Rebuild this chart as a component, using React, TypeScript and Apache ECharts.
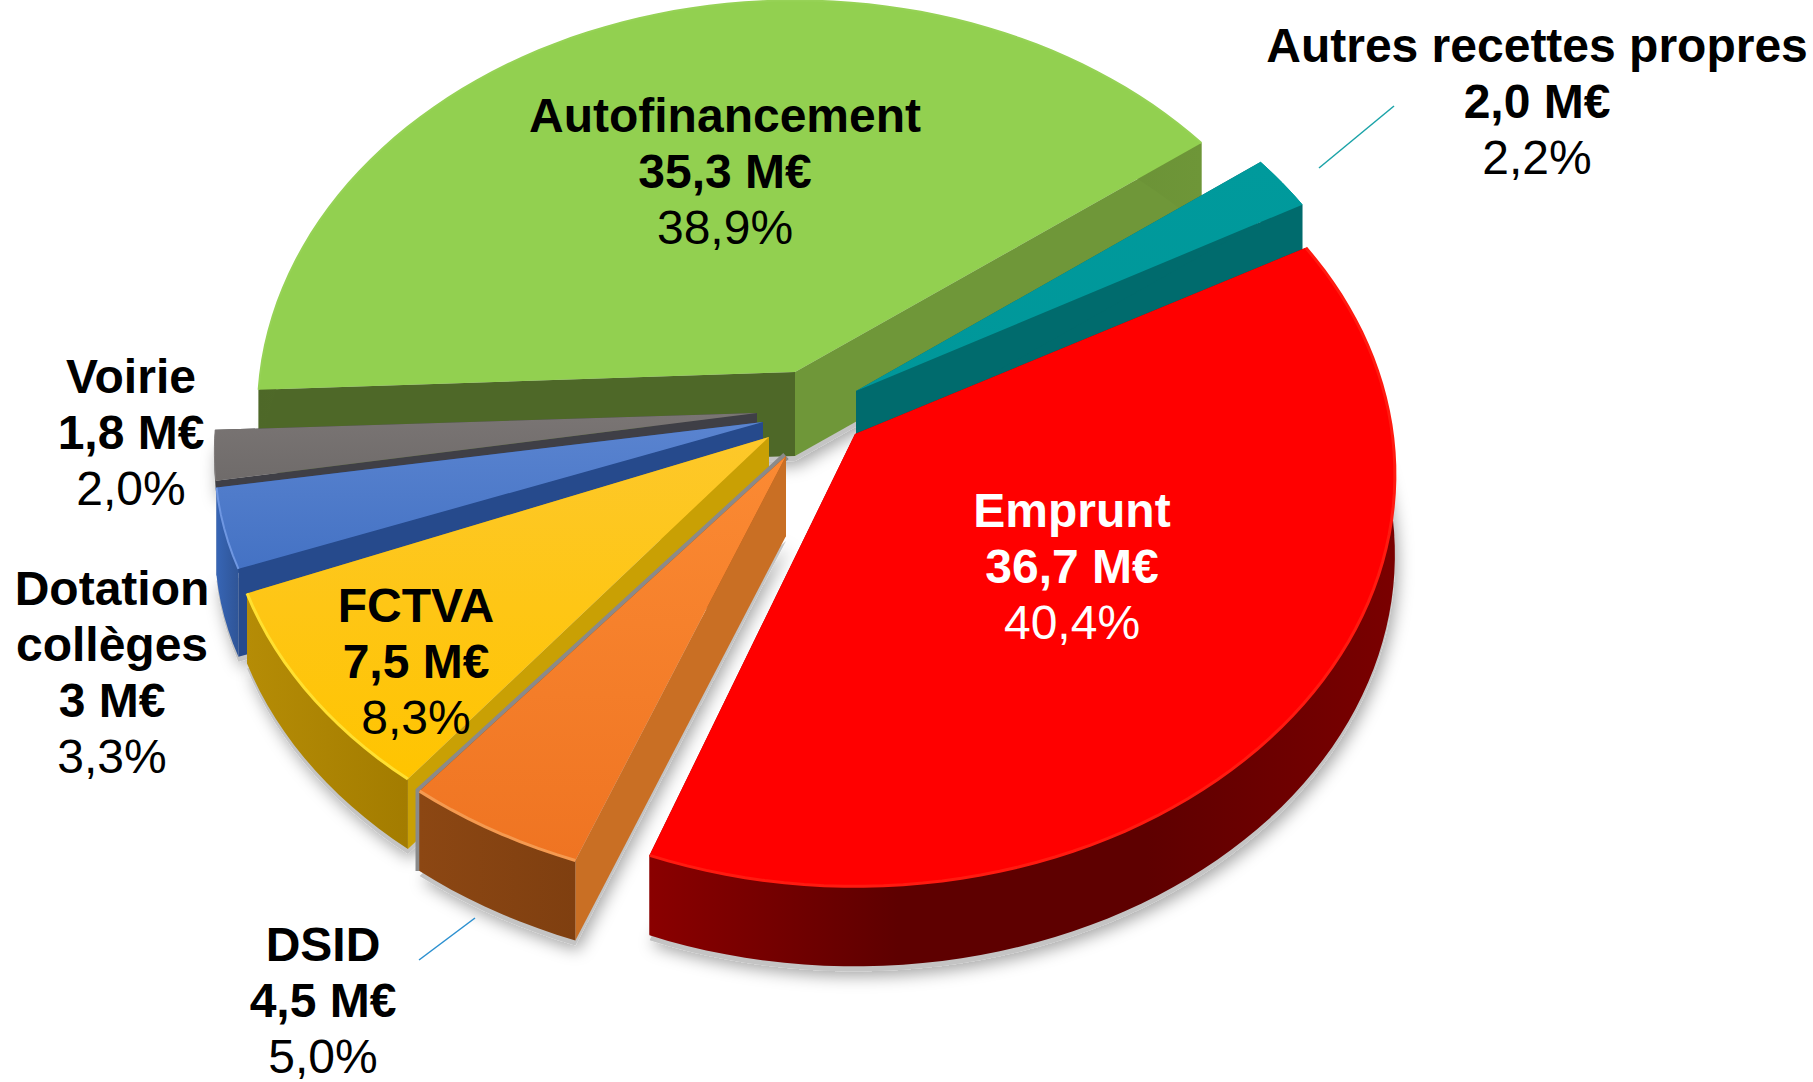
import React, { useEffect, useRef } from "react";
import * as echarts from "echarts";

const categories = ["Emprunt", "DSID", "FCTVA", "Dotation collèges", "Voirie", "Autofinancement", "Autres recettes propres"];
const amounts = [36.7, 4.5, 7.5, 3, 1.8, 35.3, 2.0];
const amountLabels = ["36,7 M€", "4,5 M€", "7,5 M€", "3 M€", "1,8 M€", "35,3 M€", "2,0 M€"];
const shareLabels = ["40,4%", "5,0%", "8,3%", "3,3%", "2,0%", "38,9%", "2,2%"];
const drawOrder = [5, 6, 0, 4, 3, 2, 1];

const START_DEG = -30;
const RX = 540, RY = 408, PERSP = 0.098;
const W = 1813, H = 1082;

const SLICES = [
  { ox: 855, oy: 434, sx: 0.995, sy: 1, depth: 80, top: ["#ff0000", "#ff0000"], edge: "#ff1a10", rim: ["#8a0000", "#5e0000", "#5e0000", "#7a0000"], wallStart: "#8a0000", wallEnd: "#8a0000", edgeW: 3, seam: "" },
  { ox: 786, oy: 456, sx: 1.02, sy: 0.96, depth: 80, top: ["#fb8a33", "#ef7422"], edge: "#f59a50", rim: ["#8c4713", "#7f3f10"], wallStart: "#c96f24", wallEnd: "#8c4713", edgeW: 3, seam: "#8a8a8a" },
  { ox: 769, oy: 437, sx: 1.005, sy: 0.98, depth: 70, top: ["#fdc82a", "#ffc400"], edge: "#ffe030", rim: ["#b58c06", "#a37c00"], wallStart: "#c9a004", wallEnd: "#b58c06", edgeW: 3, seam: "" },
  { ox: 763, oy: 422, sx: 1.01, sy: 0.92, depth: 88, top: ["#5a84d0", "#4472c4"], edge: "#6f97e2", rim: ["#3765b5", "#2f5597"], wallStart: "#264a8c", wallEnd: "#264a8c", edgeW: 2, seam: "" },
  { ox: 757, oy: 413, sx: 1, sy: 0.95, depth: 10, top: ["#7a7574", "#6f6b6a"], edge: "#7f7a79", rim: ["#555", "#4a4a4a"], wallStart: "#3f3f46", wallEnd: "#444", edgeW: 1, seam: "" },
  { ox: 795, oy: 372, sx: 0.99, sy: 1, depth: 84, top: ["#92d050", "#92d050"], edge: "#96d256", rim: ["#4e6828", "#6e9638"], wallStart: "#4e6828", wallEnd: "#6f9739", edgeW: 2, seam: "" },
  { ox: 856, oy: 391, sx: 0.985, sy: 1, depth: 60, top: ["#009a9c", "#00979a"], edge: "#00a0a2", rim: ["#006b6d", "#006b6d"], wallStart: "#006b6d", wallEnd: "#006b6d", edgeW: 1, seam: "" },
];

const LABELS = [
  { x: 1072, y: 482, color: "#ffffff" },
  { x: 323, y: 916, color: "#000000" },
  { x: 416, y: 577, color: "#000000" },
  { x: 112, y: 560, color: "#000000" },
  { x: 131, y: 348, color: "#000000" },
  { x: 725, y: 87, color: "#000000" },
  { x: 1537, y: 17, color: "#000000" },
];

const LEADERS = [
  { x1: 1394, y1: 106, x2: 1319, y2: 168, color: "#1aa3a8" },
  { x1: 475, y1: 918, x2: 419, y2: 960, color: "#2a8fd0" },
];

const total = amounts.reduce((a, b) => a + b, 0);
const rad = (d: number) => (d * Math.PI) / 180;
const sliceAngles = amounts.reduce<number[][]>((acc, v) => {
  const s = acc.length ? acc[acc.length - 1][1] : START_DEG;
  acc.push([s, s + (v / total) * 360]);
  return acc;
}, []);

// The 3D view foreshortens the angles: a small correction of the drawn angle.
const warp = (deg: number) => deg - 2 - 3.5 * Math.cos(rad(deg - 140));

function rimPoints(idx: number, dy = 0): number[][] {
  const st = SLICES[idx];
  const [a, b] = sliceAngles[idx];
  const n = Math.max(6, Math.ceil((b - a) / 2));
  const pts: number[][] = [];
  for (let i = 0; i <= n; i++) {
    const t = rad(warp(a + ((b - a) * i) / n));
    const f = 1 - PERSP * Math.sin(t);
    pts.push([st.ox + (st.sx * RX * Math.cos(t)) / f, st.oy + dy + (st.sy * RY * Math.sin(t)) / f]);
  }
  return pts;
}

function grad(colors: string[], horizontal = true) {
  const stops = colors.map((color, i) => ({ offset: colors.length > 1 ? i / (colors.length - 1) : 0, color }));
  return new echarts.graphic.LinearGradient(0, 0, horizontal ? 1 : 0, horizontal ? 0 : 1, stops);
}

function renderShadow(_p: any, api: any) {
  const idx = api.value(1);
  const st = SLICES[idx];
  const rim = rimPoints(idx, st.depth + 5);
  return {
    type: "polygon",
    silent: true,
    shape: { points: [[st.ox, st.oy + st.depth + 5], ...rim] },
    style: { fill: "#c4c4c4", shadowBlur: 16, shadowColor: "rgba(0,0,0,0.35)", shadowOffsetX: 3, shadowOffsetY: 5 },
  };
}

function renderSlice(_p: any, api: any) {
  const idx = api.value(1);
  const st = SLICES[idx];
  const rim = rimPoints(idx);
  const low = rimPoints(idx, st.depth);
  const apex = [st.ox, st.oy];
  const apexLow = [st.ox, st.oy + st.depth];
  const first = rim[0], last = rim[rim.length - 1];
  const seam = st.seam
    ? [{ type: "polyline", silent: true, shape: { points: [apex, last, low[low.length - 1]] }, style: { stroke: st.seam, lineWidth: 8, fill: "none" } }]
    : [];
  return {
    type: "group",
    children: [
      ...seam,
      { type: "polygon", silent: true, shape: { points: [apex, last, low[low.length - 1], apexLow] }, style: { fill: st.wallEnd } },
      { type: "polygon", silent: true, shape: { points: [apex, first, low[0], apexLow] }, style: { fill: st.wallStart } },
      { type: "polygon", silent: true, shape: { points: [...rim, ...[...low].reverse()] }, style: { fill: grad(st.rim) } },
      { type: "polygon", silent: true, shape: { points: [apex, ...rim] }, style: { fill: grad(st.top, false) } },
      { type: "polyline", silent: true, shape: { points: rim }, style: { stroke: st.edge, lineWidth: st.edgeW, fill: "none" } },
    ],
  };
}

export default function App() {
  const ref = useRef<HTMLDivElement>(null);
  useEffect(() => {
    document.body.style.margin = "0";
    const chart = echarts.init(ref.current!, undefined, { renderer: "svg", width: W, height: H });
    const data = drawOrder.map((i) => ({ name: categories[i], value: [amounts[i], i] }));
    const rich = (color: string) => ({
      b: { fontFamily: "Liberation Sans", fontSize: 48, fontWeight: 700, lineHeight: 56, fill: color, color },
      r: { fontFamily: "Liberation Sans", fontSize: 48, fontWeight: 400, lineHeight: 56, fill: color, color },
    });
    chart.setOption({
      animation: false,
      backgroundColor: "#ffffff",
      series: [
        { type: "custom", coordinateSystem: "none", silent: true, data, renderItem: renderShadow, z: 1 },
        { type: "custom", coordinateSystem: "none", silent: true, data, renderItem: renderSlice, z: 2 },
      ],
      graphic: [
        ...LEADERS.map((l) => ({
          type: "line",
          silent: true,
          z: 5,
          shape: { x1: l.x1, y1: l.y1, x2: l.x2, y2: l.y2 },
          style: { stroke: l.color, lineWidth: 1.5 },
        })),
        ...categories.map((c, i) => ({
          type: "text",
          silent: true,
          z: 6,
          x: LABELS[i].x,
          y: LABELS[i].y,
          style: {
            text: [...c.split(/ (?=collèges)/).map((s) => `{b|${s}}`), `{b|${amountLabels[i]}}`, `{r|${shareLabels[i]}}`].join("\n"),
            align: "center",
            verticalAlign: "top",
            rich: rich(LABELS[i].color),
          },
        })),
      ],
    });
    return () => chart.dispose();
  }, []);
  return <div ref={ref} style={{ position: "fixed", left: 0, top: 0, width: W, height: H }} />;
}
